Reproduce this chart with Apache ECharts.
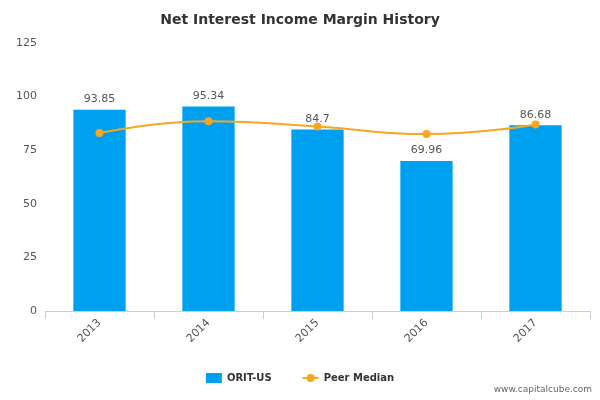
<!DOCTYPE html>
<html><head><meta charset="utf-8">
<script src="https://cdn.jsdelivr.net/npm/echarts@6/dist/echarts.min.js"></script>
<style>html,body{margin:0;padding:0;background:#fff}#c{width:600px;height:400px}</style>
</head><body><div id="c"></div>
<script>
var years = ['2013','2014','2015','2016','2017'];
var companyValues = [93.85, 95.34, 84.7, 69.96, 86.68];
var peerMedian = [83, 88.5, 86, 82.5, 87];
var yTicks = [0, 25, 50, 75, 100, 125];

var chart = echarts.init(document.getElementById('c'));
chart.setOption({
  animation: false,
  title: {text: 'Net Interest Income Margin History', left: 'center', top: 8,
    textStyle: {fontFamily: 'DejaVu Sans', fontSize: 14, fontWeight: 'bold', color: '#333'}},
  grid: {left: 45, right: 10, top: 43, bottom: 89},
  legend: {bottom: 12, itemGap: 30, itemWidth: 16, itemHeight: 10,
    textStyle: {fontFamily: 'DejaVu Sans', fontSize: 10, fontWeight: 'bold', color: '#333'},
    data: [{name: 'ORIT-US', icon: 'rect'}, {name: 'Peer Median'}]},
  graphic: [{type: 'text', right: 8, bottom: 6,
    style: {text: 'www.capitalcube.com', fill: '#666', font: '9px DejaVu Sans'}}],
  xAxis: {type: 'category', data: years,
    axisLine: {lineStyle: {color: '#c0d0e0'}},
    axisTick: {show: true, alignWithLabel: false, length: 8, lineStyle: {color: '#c0d0e0'}},
    axisLabel: {rotate: 45, color: '#555', fontFamily: 'DejaVu Sans', fontSize: 11, margin: 10}},
  yAxis: {type: 'value', min: 0, max: yTicks[yTicks.length - 1], interval: 25,
    axisLabel: {color: '#555', fontFamily: 'DejaVu Sans', fontSize: 11},
    splitLine: {show: false}, axisLine: {show: false}},
  series: [
    {name: 'ORIT-US', type: 'bar', data: companyValues, barWidth: '48%',
      itemStyle: {color: '#00a0f0'},
      label: {show: true, position: 'top', color: '#555', fontFamily: 'DejaVu Sans', fontSize: 11}},
    {name: 'Peer Median', type: 'line', data: peerMedian, smooth: true,
      symbol: 'circle', symbolSize: 8,
      itemStyle: {color: '#f5a623'}, lineStyle: {color: '#f5a623', width: 2}}
  ]
});
</script></body></html>
